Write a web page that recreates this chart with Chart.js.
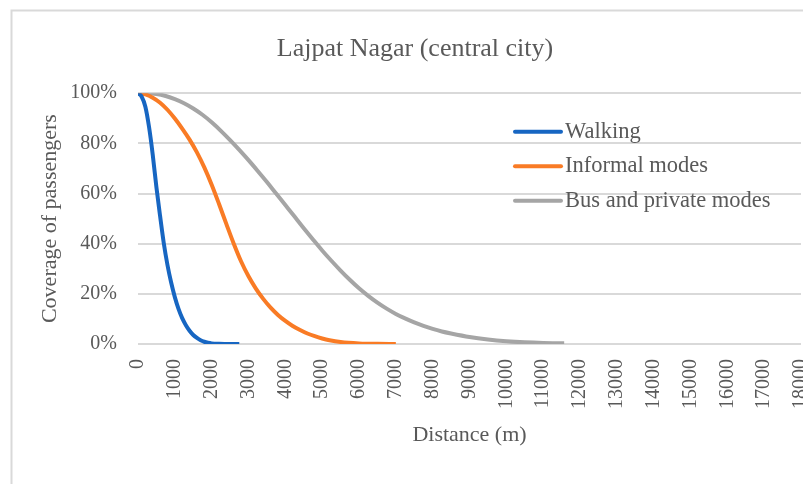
<!DOCTYPE html>
<html>
<head>
<meta charset="utf-8">
<title>Lajpat Nagar (central city)</title>
<script src="https://cdn.jsdelivr.net/npm/chart.js@4.4.1/dist/chart.umd.min.js"></script>
<style>
  html, body { margin: 0; padding: 0; overflow: hidden; background: #fff; }
  #wrap { position: relative; width: 803px; height: 484px; overflow: hidden; }
  canvas { position: absolute; left: 0; top: 0; }
</style>
</head>
<body>
<div id="wrap"><canvas id="coverage-chart" width="840" height="484"></canvas></div>
<script>
"use strict"

// DATA - distance in metres, coverage of passengers in %

const walkDist = [0, 100, 200, 300, 400, 500, 600, 700, 800, 900, 1000, 1100, 1200, 1300, 1400, 1500, 1600, 1700, 1800, 1900, 2000, 2200, 2500, 2750];
const walkCov  = [100, 98.6, 94.6, 86.5, 75.5, 62.5, 51, 40.2, 31.5, 24.5, 18.7, 14, 10.3, 7.5, 5.3, 3.6, 2.4, 1.5, 0.9, 0.5, 0.25, 0.08, 0, 0];

const informalDist = [0, 200, 400, 600, 800, 1000, 1200, 1400, 1600, 1800, 2000, 2200, 2400, 2600, 2800, 3000, 3200, 3400, 3600, 3800, 4000, 4200, 4400, 4600, 4800, 5000, 5200, 5500, 6000, 6500, 7000];
const informalCov  = [100, 99.5, 98.2, 96.2, 93.4, 89.9, 85.9, 81.5, 76.4, 70.4, 63.5, 55.8, 47.8, 40, 32.9, 27, 22.1, 18, 14.5, 11.6, 9.2, 7.2, 5.6, 4.2, 3.1, 2.2, 1.5, 0.8, 0.25, 0.05, 0];

const busDist = [0, 250, 500, 750, 1000, 1250, 1500, 1750, 2000, 2250, 2500, 2750, 3000, 3250, 3500, 3750, 4000, 4250, 4500, 4750, 5000, 5250, 5500, 5750, 6000, 6250, 6500, 6750, 7000, 7250, 7500, 7750, 8000, 8250, 8500, 9000, 9500, 10000, 10500, 11000, 11570];
const busCov  = [100, 100, 99.7, 98.9, 97.6, 96, 93.9, 91.4, 88.4, 85, 81.3, 77.4, 73.3, 69, 64.6, 60, 55.4, 50.8, 46.2, 41.7, 37.3, 33.2, 29.3, 25.6, 22.2, 19.2, 16.5, 14.1, 12, 10.2, 8.6, 7.2, 6, 5, 4.2, 2.8, 1.8, 1.1, 0.65, 0.4, 0.3];

const seriesNames = ['Walking', 'Informal modes', 'Bus and private modes'];
const seriesColors = ['#1766c2', '#f97b25', '#a5a5a5'];

// x ticks every 1000 m up to 18000, y ticks every 20 %
const xTickStep = 1000;
const xTickMax = 18000;
const yTickStep = 20;

function toPoints(xs, ys) {
  return xs.map((x, i) => ({ x: x, y: ys[i] }));
}

const textGrey = '#595959';
const gridGrey = '#d9d9d9';

Chart.defaults.font.family = "'Liberation Serif', 'Times New Roman', serif";
Chart.defaults.color = textGrey;

// legend drawn inside the plot, like the excel one
const insideLegend = {
  id: 'insideLegend',
  afterDraw(chart, args, opts) {
    const ctx = chart.ctx;
    const area = chart.chartArea;
    ctx.save();
    ctx.font = opts.font;
    ctx.textBaseline = 'middle';
    ctx.textAlign = 'left';
    chart.data.datasets.forEach((ds, i) => {
      const x = area.left + opts.left;
      const y = area.top + opts.top + i * opts.gap;
      ctx.beginPath();
      ctx.moveTo(x, y);
      ctx.lineTo(x + opts.lineLength, y);
      ctx.strokeStyle = ds.borderColor;
      ctx.lineWidth = ds.borderWidth;
      ctx.lineCap = 'round';
      ctx.stroke();
      ctx.fillStyle = opts.color;
      ctx.fillText(ds.label, x + opts.lineLength + 4, y);
    });
    ctx.restore();
  }
};

// thin outer frame of the chart object (left and top edges only are visible)
const chartFrame = {
  id: 'chartFrame',
  beforeDraw(chart) {
    const ctx = chart.ctx;
    ctx.save();
    ctx.fillStyle = '#ffffff';
    ctx.fillRect(0, 0, chart.width, chart.height);
    ctx.strokeStyle = gridGrey;
    ctx.lineWidth = 2;
    ctx.beginPath();
    ctx.moveTo(11.5, chart.height);
    ctx.lineTo(11.5, 10.5);
    ctx.lineTo(chart.width, 10.5);
    ctx.stroke();
    ctx.restore();
  }
};

const data = {
  datasets: [
    { label: seriesNames[0], data: toPoints(walkDist, walkCov) },
    { label: seriesNames[1], data: toPoints(informalDist, informalCov) },
    { label: seriesNames[2], data: toPoints(busDist, busCov) }
  ].map((ds, i) => Object.assign(ds, {
    borderColor: seriesColors[i],
    backgroundColor: seriesColors[i],
    borderWidth: 4,
    pointRadius: 0,
    cubicInterpolationMode: 'monotone',
    fill: false
  }))
};

const config = {
  type: 'line',
  data,
  options: {
    responsive: false,
    animation: false,
    devicePixelRatio: 1,
    layout: {
      padding: { left: 28, right: 38, top: 0, bottom: 20 }
    },
    plugins: {
      legend: { display: false },
      tooltip: { enabled: false },
      title: {
        display: true,
        text: 'Lajpat Nagar (central city)',
        color: textGrey,
        font: { size: 26, weight: 'normal' },
        padding: { top: 34, bottom: 28 }
      },
      insideLegend: {
        font: "22.5px 'Liberation Serif', serif",
        color: textGrey,
        left: 377,
        top: 38.5,
        gap: 34.5,
        lineLength: 46
      }
    },
    scales: {
      x: {
        type: 'linear',
        min: 0,
        max: xTickMax,
        grid: { display: false, drawTicks: false },
        border: { display: false },
        ticks: {
          stepSize: xTickStep,
          autoSkip: false,
          minRotation: 90,
          maxRotation: 90,
          padding: 15,
          font: { size: 20 },
          callback: v => String(v)
        },
        title: {
          display: true,
          text: 'Distance (m)',
          font: { size: 22 },
          padding: { top: 0, bottom: 16 }
        },
        afterFit: s => { s.height = 120; }
      },
      y: {
        min: 0,
        max: 100,
        grid: { color: gridGrey, lineWidth: 2, drawTicks: false },
        border: { display: false },
        ticks: {
          stepSize: yTickStep,
          padding: 21,
          font: { size: 20 },
          callback: v => v + '%'
        },
        title: {
          display: true,
          text: 'Coverage of passengers',
          font: { size: 22 },
          padding: { top: 9, bottom: 0 }
        },
        afterFit: s => { s.width = 110; }
      }
    }
  },
  plugins: [chartFrame, insideLegend]
};

// render init block
const coverageChart = new Chart(
  document.getElementById('coverage-chart'),
  config
);
</script>
</body>
</html>
